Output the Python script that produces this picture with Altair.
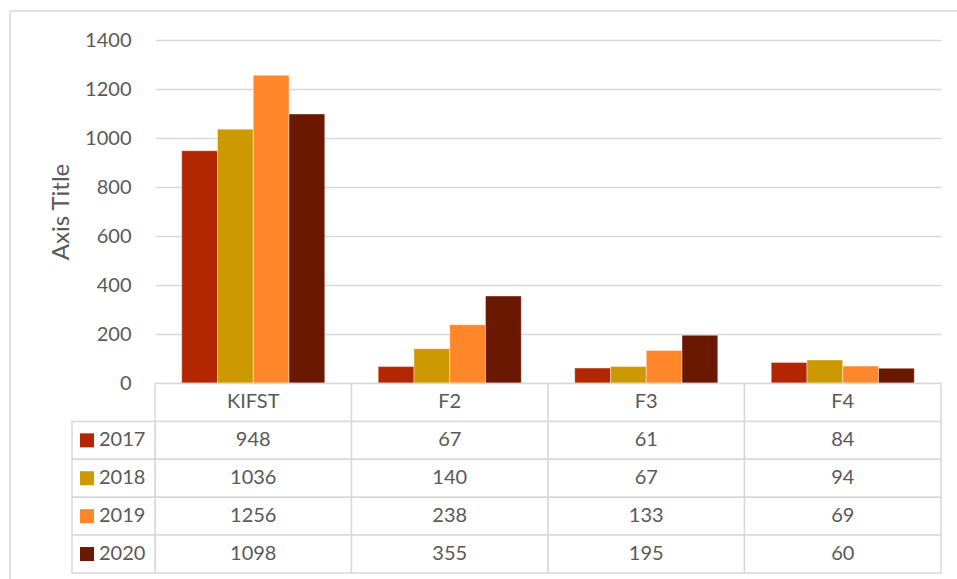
import altair as alt
import pandas as pd

# Series values per year for each category
categories = ["KIFST", "F2", "F3", "F4"]
years = ["2017", "2018", "2019", "2020"]
values_2017 = [948, 67, 61, 84]
values_2018 = [1036, 140, 67, 94]
values_2019 = [1256, 238, 133, 69]
values_2020 = [1098, 355, 195, 60]
year_colors = ["#B22600", "#CC9900", "#FF8729", "#6B1800"]
y_ticks = [0, 200, 400, 600, 800, 1000, 1200, 1400]

series = dict(zip(years, [values_2017, values_2018, values_2019, values_2020]))

bars_df = pd.DataFrame(
    [{"cat": c, "year": y, "value": v}
     for y in years for c, v in zip(categories, series[y])]
)

# Data table under the plot: header row with category names, then one row per year
rows = ["head"] + years
cells_df = pd.DataFrame(
    [{"cat": c, "row": "head", "label": c} for c in categories]
    + [{"cat": c, "row": y, "label": str(v)}
       for y in years for c, v in zip(categories, series[y])]
)
legend_df = pd.DataFrame({"row": years, "year": years})

W, H = 786, 343
FONT = "Lato"
TXT = "#595959"
LINE = "#d9d9d9"

color = alt.Color("year:N", scale=alt.Scale(domain=years, range=year_colors), legend=None)

bars = alt.Chart(bars_df).mark_bar(
    stroke="#ffffff", strokeWidth=0.8, strokeOpacity=0.5
).encode(
    x=alt.X("cat:N", sort=categories, axis=None,
            scale=alt.Scale(paddingInner=0.272, paddingOuter=0.136)),
    xOffset=alt.XOffset("year:N", sort=years, scale=alt.Scale(paddingInner=0, paddingOuter=0)),
    y=alt.Y("value:Q", scale=alt.Scale(domain=[0, 1400], nice=False),
            axis=alt.Axis(values=y_ticks, format="d", title="Axis Title", grid=True,
                          gridColor=LINE, gridWidth=1.5, domain=False, ticks=False,
                          tickSize=0, labelPadding=24, labelFont=FONT, labelFontSize=20,
                          labelColor=TXT, titleFont=FONT, titleFontSize=24,
                          titleColor=TXT, titleFontWeight="normal", titleAngle=270,
                          titleX=-94, titleY=171.5, titleAlign="center",
                          titleBaseline="middle")),
    color=color,
)

table_x = alt.X("cat:N", sort=categories, axis=None,
                scale=alt.Scale(paddingInner=0, paddingOuter=0))
table_y = alt.Y("row:N", sort=rows, axis=None,
                scale=alt.Scale(range=[343.5, 533], paddingInner=0, paddingOuter=0))

cell_rects = alt.Chart(cells_df).mark_rect(
    fill="white", stroke=LINE, strokeWidth=1.5
).encode(x=table_x, y=table_y)

cell_text = alt.Chart(cells_df).mark_text(
    font=FONT, fontSize=20, color=TXT, baseline="middle", align="center"
).encode(x=table_x, y=table_y, text="label:N")

legend_rects = alt.Chart(legend_df).mark_rect(
    fill="white", stroke=LINE, strokeWidth=1.5
).encode(x=alt.value(-83), x2=alt.value(0), y=table_y)

legend_keys = alt.Chart(legend_df).mark_square(size=196, opacity=1).encode(
    x=alt.value(-68), y=table_y, color=color
)

legend_text = alt.Chart(legend_df).mark_text(
    font=FONT, fontSize=20, color=TXT, baseline="middle", align="left"
).encode(x=alt.value(-56), y=table_y, text="year:N")

table = alt.layer(cell_rects, legend_rects, cell_text, legend_keys, legend_text)

# Light chart-area border (top and left edges)
frame_df = pd.DataFrame({"k": [0]})
frame_top = alt.Chart(frame_df).mark_rule(color=LINE, strokeWidth=1.5).encode(
    x=alt.value(-145), x2=alt.value(810), y=alt.value(-29)
)
frame_left = alt.Chart(frame_df).mark_rule(color=LINE, strokeWidth=1.5).encode(
    x=alt.value(-145), y=alt.value(-29), y2=alt.value(560)
)

chart = alt.layer(frame_top, frame_left, bars, table).resolve_scale(
    x="independent", y="independent"
).properties(
    width=W, height=H,
    autosize=alt.AutoSizeParams(type="none"),
    padding={"left": 155, "top": 40, "right": 16, "bottom": 196},
    background="white",
).configure_view(stroke=None)

chart.save("out.html", embed_options={"renderer": "svg", "actions": False})
